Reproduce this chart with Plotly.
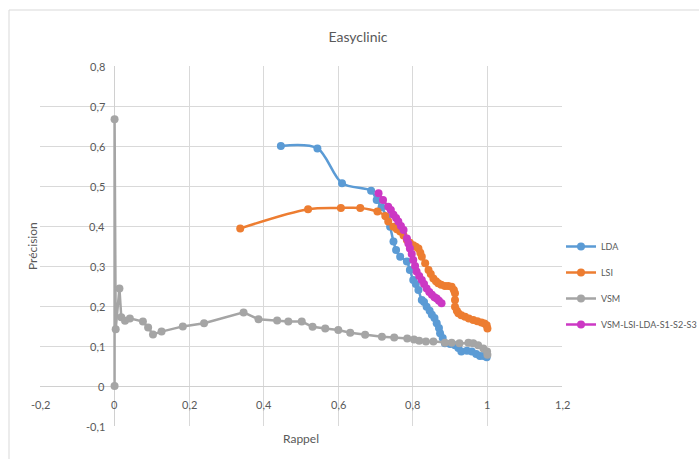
import plotly.graph_objects as go

title_text = "Easyclinic"
x_title = "Rappel"
y_title = "Précision"

lda_x = [0.446, 0.544, 0.610, 0.688, 0.703, 0.716, 0.730, 0.739, 0.748, 0.755, 0.766, 0.784, 0.792, 0.801, 0.808,
         0.815, 0.824, 0.830, 0.837, 0.845, 0.851, 0.858, 0.864, 0.870, 0.873, 0.880, 0.886, 0.900, 0.913, 0.922,
         0.930, 0.945, 0.958, 0.970, 0.980, 0.990, 0.998]
lda_y = [0.600, 0.594, 0.507, 0.488, 0.465, 0.447, 0.423, 0.398, 0.361, 0.340, 0.323, 0.311, 0.290, 0.265, 0.255,
         0.240, 0.215, 0.210, 0.198, 0.188, 0.178, 0.170, 0.157, 0.145, 0.132, 0.120, 0.107, 0.105, 0.102, 0.095,
         0.086, 0.088, 0.086, 0.080, 0.075, 0.075, 0.072]

lsi_x = [0.337, 0.519, 0.607, 0.659, 0.705, 0.726, 0.734, 0.748, 0.757, 0.766, 0.775, 0.784, 0.792, 0.801, 0.808,
         0.815, 0.820, 0.824, 0.833, 0.842, 0.848, 0.855, 0.862, 0.868, 0.876, 0.886, 0.895, 0.904, 0.910, 0.913,
         0.913, 0.913, 0.918, 0.922, 0.930, 0.940, 0.950, 0.962, 0.973, 0.984, 0.992, 0.998, 1.000]
lsi_y = [0.394, 0.442, 0.445, 0.445, 0.436, 0.425, 0.411, 0.398, 0.392, 0.386, 0.376, 0.365, 0.358, 0.352, 0.348,
         0.344, 0.333, 0.323, 0.307, 0.290, 0.280, 0.269, 0.262, 0.257, 0.253, 0.250, 0.250, 0.248, 0.240, 0.232,
         0.215, 0.198, 0.188, 0.182, 0.177, 0.173, 0.169, 0.165, 0.162, 0.159, 0.156, 0.152, 0.144]

vsm_x = [0.000, 0.000, 0.003, 0.013, 0.018, 0.028, 0.041, 0.076, 0.090, 0.103, 0.126, 0.183, 0.240, 0.346, 0.386,
         0.436, 0.466, 0.502, 0.531, 0.565, 0.600, 0.632, 0.672, 0.717, 0.750, 0.785, 0.803, 0.817, 0.835, 0.855,
         0.886, 0.904, 0.925, 0.949, 0.962, 0.975, 0.989, 0.999, 1.000]
vsm_y = [0.000, 0.667, 0.142, 0.244, 0.172, 0.163, 0.169, 0.161, 0.146, 0.129, 0.136, 0.149, 0.157, 0.184, 0.167,
         0.164, 0.161, 0.161, 0.148, 0.144, 0.140, 0.133, 0.128, 0.123, 0.121, 0.119, 0.116, 0.113, 0.111, 0.111,
         0.108, 0.108, 0.107, 0.108, 0.107, 0.102, 0.094, 0.086, 0.078]

comb_x = [0.708, 0.720, 0.734, 0.741, 0.748, 0.755, 0.761, 0.768, 0.775, 0.784, 0.788, 0.792, 0.797, 0.801, 0.806,
          0.810, 0.817, 0.824, 0.830, 0.837, 0.844, 0.851, 0.858, 0.864, 0.870, 0.877]
comb_y = [0.482, 0.465, 0.448, 0.440, 0.428, 0.420, 0.411, 0.400, 0.390, 0.369, 0.356, 0.344, 0.330, 0.315, 0.300,
          0.286, 0.275, 0.265, 0.255, 0.244, 0.235, 0.228, 0.222, 0.219, 0.213, 0.207]

series_names = ["LDA", "LSI", "VSM", "VSM-LSI-LDA-S1-S2-S3"]
series_colors = ["#5B9BD5", "#ED7D31", "#A5A5A5", "#CC38C4"]
series_shapes = ["spline", "spline", "linear", "spline"]

x_ticks = [-0.2, 0, 0.2, 0.4, 0.6, 0.8, 1, 1.2]
x_tick_labels = ["-0,2", "0", "0,2", "0,4", "0,6", "0,8", "1", "1,2"]
y_ticks = [-0.1, 0, 0.1, 0.2, 0.3, 0.4, 0.5, 0.6, 0.7, 0.8]
y_tick_labels = ["-0,1", "0", "0,1", "0,2", "0,3", "0,4", "0,5", "0,6", "0,7", "0,8"]

FONT = "Lato, 'Open Sans', sans-serif"
TXT = "#595959"

fig = go.Figure()
data = [(lda_x, lda_y), (lsi_x, lsi_y), (vsm_x, vsm_y), (comb_x, comb_y)]
for (xs, ys), name, col, shp in zip(data, series_names, series_colors, series_shapes):
    line = dict(color=col, width=2.5, shape=shp)
    if shp == "spline":
        line["smoothing"] = 0.9
    fig.add_trace(go.Scatter(
        x=xs, y=ys, name=name, mode="lines+markers",
        line=line, marker=dict(color=col, size=8), legendgroup=name,
    ))

annotations = []
for v, t in zip(y_ticks, y_tick_labels):
    annotations.append(dict(x=0, y=v, xref="x", yref="y", text=t, showarrow=False,
                            xanchor="right", yanchor="middle", xshift=-8,
                            font=dict(family=FONT, size=11, color=TXT)))
for v, t in zip(x_ticks, x_tick_labels):
    annotations.append(dict(x=v, y=0, xref="x", yref="y", text=t, showarrow=False,
                            xanchor="center", yanchor="top", yshift=-10,
                            font=dict(family=FONT, size=11, color=TXT)))
annotations.append(dict(x=0.5, y=(426 - 438) / 360, xref="paper", yref="paper", text=x_title,
                        showarrow=False, xanchor="center", yanchor="middle",
                        font=dict(family=FONT, size=12, color=TXT)))
annotations.append(dict(x=(32 - 40) / 522, y=0.5, xref="paper", yref="paper", text=y_title,
                        showarrow=False, textangle=-90, xanchor="center", yanchor="middle",
                        font=dict(family=FONT, size=12, color=TXT)))

fig.update_layout(
    width=699, height=459, autosize=False,
    margin=dict(l=40, r=137, t=66, b=33, autoexpand=False),
    paper_bgcolor="white", plot_bgcolor="white",
    title=dict(text=title_text, x=358 / 699, xref="container", xanchor="center",
               y=1 - 37 / 459, yref="container", yanchor="middle",
               font=dict(family=FONT, size=14, color=TXT)),
    font=dict(family=FONT, color=TXT),
    showlegend=True,
    legend=dict(x=(561 - 40) / 522, y=(426 - 232) / 360, xanchor="left", yanchor="top",
                font=dict(family=FONT, size=9, color=TXT),
                tracegroupgap=7, itemwidth=30, bgcolor="rgba(0,0,0,0)"),
    annotations=annotations,
    shapes=[dict(type="rect", xref="paper", yref="paper",
                 x0=(9 - 40) / 522, x1=(720 - 40) / 522, y0=(426 - 480) / 360, y1=(426 - 10) / 360,
                 line=dict(color="#D9D9D9", width=1), fillcolor="rgba(0,0,0,0)", layer="below")],
)
fig.update_xaxes(range=[-0.2, 1.2], tickvals=x_ticks, showticklabels=False, showgrid=True,
                 gridcolor="#D9D9D9", gridwidth=1, zeroline=True, zerolinecolor="#D0D0D0",
                 zerolinewidth=1, showline=False, fixedrange=True)
fig.update_yaxes(range=[-0.1, 0.8], tickvals=y_ticks, showticklabels=False, showgrid=True,
                 gridcolor="#D9D9D9", gridwidth=1, zeroline=True, zerolinecolor="#D0D0D0",
                 zerolinewidth=1, showline=False, fixedrange=True)

fig.write_html("out.html", config={"displayModeBar": False},
               post_script="document.body.style.margin='0px';")
